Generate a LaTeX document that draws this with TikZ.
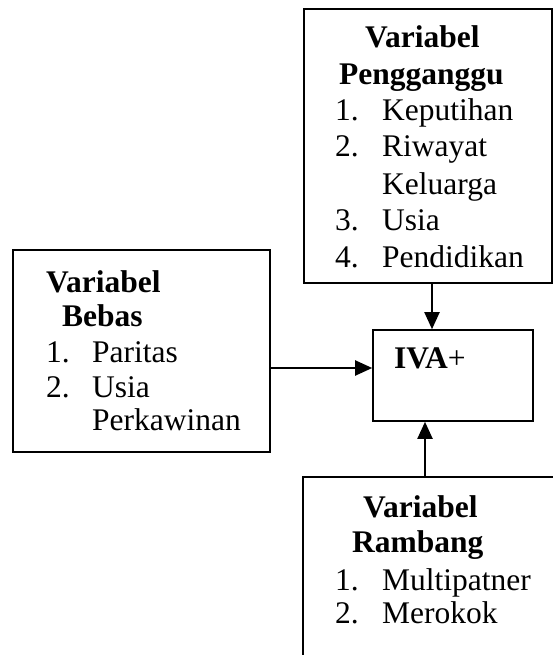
\documentclass[tikz,border=0pt]{standalone}
\usepackage{fontspec}
\setmainfont{Liberation Serif}
\usetikzlibrary{arrows.meta}
\begin{document}
\begin{tikzpicture}[x=1pt,y=-1pt,
  boxstyle/.style={draw,line width=1.6pt,rectangle,inner sep=0pt},
  txt/.style={anchor=base west,inner sep=0pt,font=\fontsize{31.5}{36}\selectfont},
  arr/.style={line width=2pt,-{Triangle[length=17pt,width=15pt]}}]
\useasboundingbox (0,0) rectangle (553,655);
\clip (0,0) rectangle (553,655);
% boxes
\node[boxstyle,minimum width=248pt,minimum height=274pt] (top) at (428,146) {};
\node[boxstyle,minimum width=257pt,minimum height=202pt] (lb) at (141.5,351) {};
\node[boxstyle,minimum width=160pt,minimum height=91pt] (iva) at (453,375.5) {};
\node[boxstyle,minimum width=297pt,minimum height=223pt] (bot) at (451.5,588.5) {};
% top box text
\node[txt] (t1) at (365,48) {\textbf{Variabel}};
\node[txt] (t2) at (339,85) {\textbf{Pengganggu}};
\node[txt] (t3n) at (335,121) {1.};
\node[txt] (t3) at (382,121) {Keputihan};
\node[txt] (t4n) at (335,157) {2.};
\node[txt] (t4) at (382,157) {Riwayat};
\node[txt] (t5) at (382,194) {Keluarga};
\node[txt] (t6n) at (335,230) {3.};
\node[txt] (t6) at (382,230) {Usia};
\node[txt] (t7n) at (335,267) {4.};
\node[txt] (t7) at (382,267) {Pendidikan};
% left box text
\node[txt] (l1) at (46,292) {\textbf{Variabel}};
\node[txt] (l2) at (62,326) {\textbf{Bebas}};
\node[txt] (l3n) at (46,362) {1.};
\node[txt] (l3) at (92,362) {Paritas};
\node[txt] (l4n) at (46,397) {2.};
\node[txt] (l4) at (92,397) {Usia};
\node[txt] (l5) at (92,430) {Perkawinan};
% IVA
\node[txt] (i1) at (394,368) {\textbf{IVA}+};
% bottom box text
\node[txt] (b1) at (363,517) {\textbf{Variabel}};
\node[txt] (b2) at (352,552) {\textbf{Rambang}};
\node[txt] (b3n) at (335,590) {1.};
\node[txt] (b3) at (382,590) {Multipatner};
\node[txt] (b4n) at (335,623) {2.};
\node[txt] (b4) at (382,623) {Merokok};
% connectors
\coordinate (ax) at (432,0);
\coordinate (ay) at (0,368);
\coordinate (bx) at (425,0);
\draw[arr] (top.south -| ax) -- (iva.north -| ax);
\draw[arr] (lb.east |- ay) -- (iva.west |- ay);
\draw[arr] (bot.north -| bx) -- (iva.south -| bx);
\end{tikzpicture}
\end{document}
